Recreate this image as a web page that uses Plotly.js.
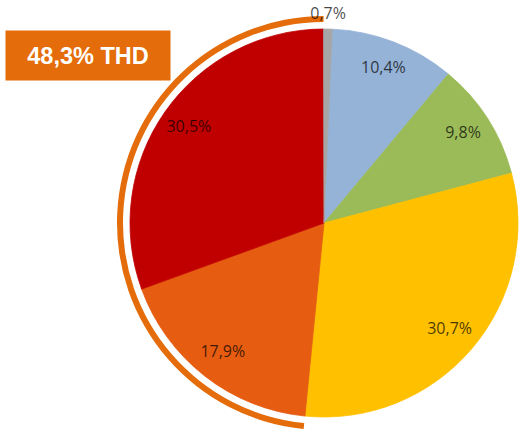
<!DOCTYPE html>
<html>
<head>
<meta charset="utf-8">
<script src="https://cdn.plot.ly/plotly-3.0.1.min.js"></script>
<style>
html,body{margin:0;padding:0;overflow:hidden;background:#fff;width:519px;height:429px;}
#chart{width:560px;height:470px;}
</style>
</head>
<body>
<div id="chart"></div>
<script>
// ---- data ----
const categories = ['Segment 1', 'Segment 2', 'Segment 3', 'Segment 4', 'Segment 5', 'Segment 6'];
const values = [10.4, 9.8, 30.7, 17.9, 30.5, 0.7];
const sliceColors = ['#95B3D7', '#9BBB59', '#FFC000', '#E65C10', '#C00000', '#A6A6A6'];
const thdSlices = [3, 4];          // slices marked by the THD arc
const thdShare = 48.3;             // value in the THD box
const thdSuffix = ' THD';

// ---- derived ----
const total = values.reduce((a, b) => a + b, 0);
const fmt = v => v.toFixed(1).replace('.', ',') + '%';
const widths = [], mids = [];
let cum = 0;
values.forEach(v => {
  widths.push(v / total * 360);
  mids.push((cum + v / 2) / total * 360);
  cum += v;
});
const labels = values.map(fmt);

// THD arc from the slices it covers
const thdStart = values.slice(0, thdSlices[0]).reduce((a, b) => a + b, 0);
const thdSum = thdSlices.reduce((a, i) => a + values[i], 0);
const arcTheta = (thdStart + thdSum / 2) / total * 360;
const arcWidth = thdSum / total * 360;

// geometry (pixels); the figure is larger than the 519x429 window, the excess is hidden
const W = 560, H = 470, VIEW_H = 429;
const cx = 324, cyTop = 223;
const pieR = 194, domR = 220;
const rMax = domR / pieR;
const arcIn = 201 / pieR, arcOut = 207 / pieR;

const labelR = values.map(v => (v / total < 0.02 ? 1.075 : 0.85));

const slices = {
  type: 'barpolar',
  theta: mids,
  width: widths,
  r: values.map(() => 1),
  base: values.map(() => 0),
  text: categories,
  marker: {color: sliceColors, line: {color: sliceColors, width: 0.8}},
  hoverinfo: 'skip',
  showlegend: false
};

const arc = {
  type: 'barpolar',
  theta: [arcTheta],
  width: [arcWidth],
  base: [arcIn],
  r: [arcOut - arcIn],
  marker: {color: '#E46C0A', line: {width: 0}},
  hoverinfo: 'skip',
  showlegend: false
};

const labelTrace = {
  type: 'scatterpolar',
  mode: 'text',
  theta: mids,
  r: labelR,
  text: labels,
  cliponaxis: false,
  textfont: {family: 'Open Sans, sans-serif', size: 16, color: 'rgba(0,0,0,0.72)'},
  hoverinfo: 'skip',
  showlegend: false
};

const layout = {
  width: W,
  height: H,
  margin: {l: 0, r: 0, t: 0, b: 0},
  paper_bgcolor: '#ffffff',
  showlegend: false,
  polar: {
    domain: {
      x: [(cx - domR) / W, (cx + domR) / W],
      y: [(H - cyTop - domR) / H, (H - cyTop + domR) / H]
    },
    bgcolor: 'rgba(0,0,0,0)',
    bargap: 0,
    barmode: 'overlay',
    hole: 0,
    radialaxis: {visible: false, range: [0, rMax]},
    angularaxis: {visible: false, rotation: 87.6, direction: 'clockwise'}
  },
  annotations: [{
    xref: 'paper', yref: 'paper',
    x: 88 / W, y: 1 - 55.5 / H,
    xanchor: 'center', yanchor: 'middle',
    text: '<b>' + thdShare.toFixed(1).replace('.', ',') + '%' + thdSuffix + '</b>',
    showarrow: false,
    bgcolor: '#E46C0A',
    width: 164, height: 49,
    borderpad: 0,
    align: 'center', valign: 'middle',
    font: {family: 'Liberation Sans, Arial, sans-serif', size: 23.5, color: '#ffffff'}
  }]
};

Plotly.newPlot('chart', [slices, arc, labelTrace], layout, {displayModeBar: false, staticPlot: true});
</script>
</body>
</html>
